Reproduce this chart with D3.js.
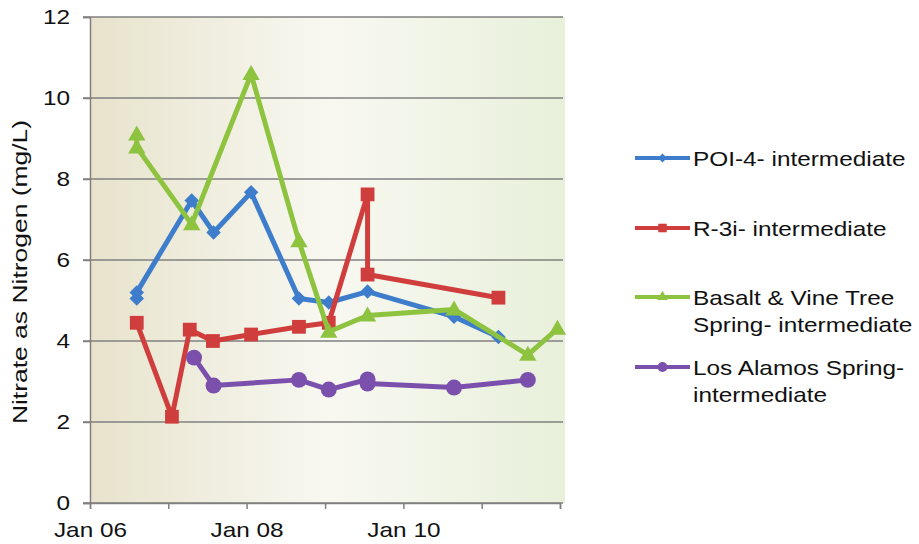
<!DOCTYPE html>
<html><head><meta charset="utf-8">
<script src="https://cdn.jsdelivr.net/npm/d3@7"></script>
<style>
body{margin:0;background:#fff;}
text{font-family:"Liberation Sans",Arial,sans-serif;fill:#111;}
</style>
</head><body>
<svg id="c" width="919" height="544"></svg>
<script>
// ---- data ----
const seriesNames = ["POI-4- intermediate", "R-3i- intermediate", "Basalt & Vine Tree Spring- intermediate", "Los Alamos Spring- intermediate"];
const legendLines = [["POI-4- intermediate"], ["R-3i- intermediate"], ["Basalt & Vine Tree", "Spring- intermediate"], ["Los Alamos Spring-", "intermediate"]];
const seriesColors = ["#3e7dcb", "#cf3e3c", "#8ec340", "#7b50ad"];

const poiDates = ["2006-08-07","2006-08-07","2007-04-20","2007-07-31","2008-01-22","2008-09-01","2009-01-18","2009-07-18","2010-08-25","2011-03-20"];
const poiValues = [5.05, 5.2, 7.47, 6.68, 7.67, 5.05, 4.95, 5.22, 4.6, 4.1];

const r3iDates = ["2006-08-07","2007-01-18","2007-04-11","2007-07-28","2008-01-22","2008-09-01","2009-01-18","2009-07-18","2009-07-18","2011-03-20"];
const r3iValues = [4.45, 2.13, 4.28, 4.0, 4.16, 4.35, 4.45, 7.62, 5.64, 5.07];

const basaltDates = ["2006-08-07","2006-08-07","2007-04-20","2008-01-22","2008-09-01","2009-01-18","2009-07-18","2010-08-25","2011-08-04","2011-12-20"];
const basaltValues = [9.1, 8.78, 6.88, 10.59, 6.46, 4.23, 4.63, 4.78, 3.66, 4.3];

const laDates = ["2007-05-01","2007-07-31","2008-09-01","2009-01-18","2009-07-18","2009-07-18","2010-08-25","2011-08-04"];
const laValues = [3.59, 2.9, 3.04, 2.8, 3.05, 2.95, 2.85, 3.04];

const yTicks = [0, 2, 4, 6, 8, 10, 12];
const xTickLabels = {"2006": "Jan 06", "2008": "Jan 08", "2010": "Jan 10"};
const yTitle = "Nitrate as Nitrogen (mg/L)";

// ---- layout ----
const SX = 1.16; // horizontal stretch of text seen in the reference
const L = 90, R = 560, T = 17, B = 503;
const svg = d3.select("#c");
const parse = d3.timeParse("%Y-%m-%d");
const x = d3.scaleTime().domain([new Date(2006,0,1), new Date(2012,0,1)]).range([L, R]);
const y = d3.scaleLinear().domain([0, 12]).range([B, T]);

// background gradient
const defs = svg.append("defs");
const g1 = defs.append("linearGradient").attr("id","bg").attr("x1","0").attr("x2","1").attr("y1","0").attr("y2","0");
g1.append("stop").attr("offset","0%").attr("stop-color","#e7e3cc");
g1.append("stop").attr("offset","50%").attr("stop-color","#f8f8f1");
g1.append("stop").attr("offset","100%").attr("stop-color","#e8f0da");
svg.append("rect").attr("x", L).attr("y", T).attr("width", 565 - L).attr("height", B - T).attr("fill","url(#bg)");

// gridlines
svg.append("g").selectAll("line").data(yTicks).join("line")
  .attr("x1", L - 7).attr("x2", 563)
  .attr("y1", d => y(d)).attr("y2", d => y(d))
  .attr("stroke", "#808080").attr("stroke-width", 1.5);

// y axis
const ya = svg.append("g").attr("transform", `translate(${L},0)`)
  .call(d3.axisLeft(y).tickValues(yTicks).tickSize(7).tickPadding(13).tickFormat(d3.format("d")));
ya.select(".domain").attr("stroke", "#808080").attr("stroke-width", 1.5);
ya.selectAll(".tick line").attr("stroke", "#808080").attr("stroke-width", 1.5);
ya.selectAll(".tick text").attr("font-size", 21).attr("fill", "#111")
  .attr("font-family", "Liberation Sans, Arial, sans-serif")
  .attr("transform", `translate(-20,0) scale(${SX},1) translate(20,0)`);

// x axis
const xa = svg.append("g").attr("transform", `translate(0,${B})`)
  .call(d3.axisBottom(x).ticks(d3.timeYear.every(1)).tickSize(6).tickPadding(13)
    .tickFormat(d => xTickLabels[d.getFullYear()] || ""));
xa.select(".domain").attr("stroke", "#808080").attr("stroke-width", 1.5);
xa.selectAll(".tick line").attr("stroke", "#808080").attr("stroke-width", 1.5);
xa.selectAll(".tick text").attr("font-size", 21).attr("fill", "#111")
  .attr("font-family", "Liberation Sans, Arial, sans-serif")
  .attr("transform", `scale(${SX},1)`);

// y title
svg.append("text").attr("transform", `translate(27,${(T + B) / 2 + 12}) rotate(-90) scale(1.26,1)`)
  .attr("text-anchor", "middle").attr("font-size", 21).text(yTitle);

// series
const series = [
  {dates: poiDates, values: poiValues, shape: "diamond"},
  {dates: r3iDates, values: r3iValues, shape: "square"},
  {dates: basaltDates, values: basaltValues, shape: "triangle"},
  {dates: laDates, values: laValues, shape: "circle"}
];
function markerPath(shape, scale) {
  const s = scale || 1;
  if (shape === "diamond") return d3.symbol(d3.symbolSquare, 105 * s * s)();
  if (shape === "square") return d3.symbol(d3.symbolSquare, 190 * s * s)();
  if (shape === "triangle") return d3.symbol(d3.symbolTriangle, 130 * s * s)();
  return d3.symbol(d3.symbolCircle, 200 * s * s)();
}
const line = d3.line().x(d => x(d[0])).y(d => y(d[1]));
series.forEach((s, i) => {
  const pts = s.dates.map((d, j) => [parse(d), s.values[j]]);
  const g = svg.append("g");
  g.append("path").datum(pts).attr("d", line).attr("fill", "none")
    .attr("stroke", seriesColors[i]).attr("stroke-width", 5).attr("stroke-linejoin", "round");
  g.selectAll("path.m").data(pts).join("path").attr("class","m")
    .attr("d", markerPath(s.shape))
    .attr("transform", d => `translate(${x(d[0])},${y(d[1])})` + (s.shape === "diamond" ? " rotate(45)" : "") + (s.shape === "triangle" ? " translate(0,1)" : ""))
    .attr("fill", seriesColors[i]);
});

// legend
const legY = [158, 228, 297, 367];
legendLines.forEach((lines, i) => {
  const g = svg.append("g").attr("transform", `translate(0,${legY[i]})`);
  g.append("line").attr("x1", 635).attr("x2", 690).attr("y1", 0).attr("y2", 0)
    .attr("stroke", seriesColors[i]).attr("stroke-width", 4);
  g.append("path").attr("d", markerPath(series[i].shape, 0.62))
    .attr("transform", "translate(662.5,0)" + (series[i].shape === "diamond" ? " rotate(45)" : ""))
    .attr("fill", seriesColors[i]);
  lines.forEach((t, k) => {
    g.append("text").attr("transform", `translate(693,${8 + k * 27}) scale(${SX},1)`)
      .attr("font-size", 21).text(t);
  });
});
</script>
</body></html>
